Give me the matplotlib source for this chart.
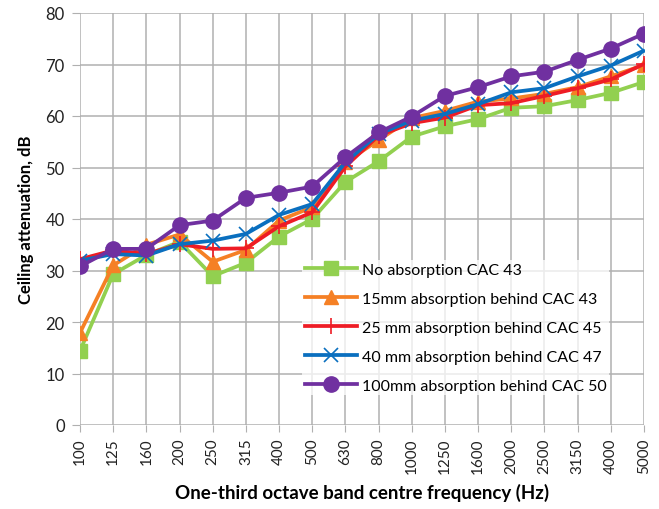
import matplotlib
matplotlib.use("Agg")
import matplotlib.pyplot as plt
import numpy as np

plt.rcParams["font.family"] = ["Lato", "DejaVu Sans"]

FREQS = ["100", "125", "160", "200", "250", "315", "400", "500", "630", "800",
         "1000", "1250", "1600", "2000", "2500", "3150", "4000", "5000"]

NO_ABS_43 = [14.4, 29.3, 33.0, 35.6, 28.9, 31.5, 36.6, 40.0, 47.2, 51.2,
             56.0, 58.0, 59.4, 61.6, 61.9, 63.1, 64.5, 66.6]
ABS15_43 = [17.9, 31.0, 35.0, 37.0, 31.7, 34.0, 39.7, 42.3, 51.0, 55.3,
            59.6, 61.0, 62.8, 63.4, 64.3, 65.6, 67.7, 69.9]
ABS25_45 = [32.2, 33.9, 33.2, 35.1, 34.2, 34.3, 38.6, 41.3, 50.2, 56.2,
            58.6, 59.7, 62.1, 62.5, 63.9, 65.4, 67.1, 70.1]
ABS40_47 = [31.9, 33.2, 32.9, 35.1, 35.8, 37.1, 40.8, 42.9, 51.0, 56.5,
            59.1, 60.4, 62.3, 64.6, 65.4, 67.7, 69.8, 72.7]
ABS100_50 = [30.8, 34.2, 34.2, 38.8, 39.7, 44.1, 45.1, 46.3, 52.0, 56.8,
             59.9, 63.9, 65.6, 67.7, 68.6, 70.9, 73.1, 76.0]

SERIES = [
    ("No absorption CAC 43", NO_ABS_43, "#92D050", "s", 10, None),
    ("15mm absorption behind CAC 43", ABS15_43, "#F58025", "^", 10, None),
    ("25 mm absorption behind CAC 45", ABS25_45, "#EE1C25", "+", 11, 1.2),
    ("40 mm absorption behind CAC 47", ABS40_47, "#0A6FBF", "x", 10, 1.2),
    ("100mm absorption behind CAC 50", ABS100_50, "#7030A0", "o", 11, None),
]

fig = plt.figure(figsize=(6.59, 5.10), dpi=100)
ax = fig.add_axes([80 / 659, 1 - 426 / 510, 564 / 659, 412 / 510])

x = np.arange(len(FREQS))
for label, vals, col, mk, ms, mew in SERIES:
    kw = dict(markeredgewidth=mew) if mew else dict(markeredgecolor=col)
    ax.plot(x, vals, color=col, lw=2.7, marker=mk, markersize=ms,
            markerfacecolor=col, label=label, **kw)

ax.set_xlim(0, len(FREQS) - 1)
ax.set_ylim(0, 80)
ax.set_yticks(np.arange(0, 81, 10))
ax.set_xticks(x)
ax.set_xticklabels(FREQS, rotation=90)
ax.grid(True, color="#B0B0B0", lw=1.1)
ax.set_axisbelow(True)
for s in ax.spines.values():
    s.set_visible(False)
ax.tick_params(axis="y", length=6, color="#B0B0B0", labelsize=12,
               pad=5, labelcolor="#222222")
ax.tick_params(axis="x", length=5, color="#B0B0B0", labelsize=11,
               pad=4, labelcolor="#222222")

ax.set_xlabel("One-third octave band centre frequency (Hz)", fontsize=13.5,
              fontweight="bold", labelpad=7)
ax.set_ylabel("Ceiling attenuation, dB", fontsize=12, fontweight="bold",
              labelpad=8)

leg = ax.legend(loc="upper left", bbox_to_anchor=(0.38, 0.42), fontsize=11.5,
                frameon=True, framealpha=0.75, edgecolor="none",
                handlelength=3.3, labelspacing=0.93, borderpad=0.15,
                handletextpad=0.3)
leg.get_frame().set_boxstyle("square", pad=0)

fig.savefig("out.png", dpi=100)
